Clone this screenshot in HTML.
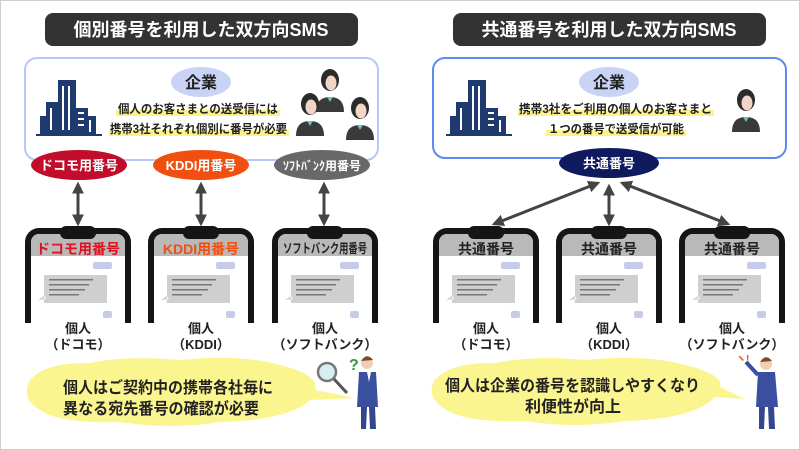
<!DOCTYPE html>
<html><head><meta charset="utf-8"><style>
html,body{margin:0;padding:0;background:#fff;}
svg{display:block;font-family:"Liberation Sans","Noto Sans CJK JP",sans-serif;font-weight:bold;}
</style></head><body>
<svg width="800" height="450" viewBox="0 0 800 450" xmlns="http://www.w3.org/2000/svg">
<defs>
<marker id="a" viewBox="0 0 10 10" refX="8" refY="5" markerWidth="4" markerHeight="4" orient="auto-start-reverse"><path d="M0,0 L10,5 L0,10 z" fill="#444"/></marker>
<g id="ph">
<rect x="0" y="228" width="106" height="110" rx="14" fill="#151515"/>
<rect x="6" y="234" width="94" height="100" rx="8" fill="#fff"/>
<path d="M6,256 V242 a8,8 0 0 1 8,-8 H92 a8,8 0 0 1 8,8 V256 z" fill="#b9b9b9"/>
<rect x="35" y="226" width="36" height="13" rx="6" fill="#151515"/>
<rect x="68" y="262" width="19" height="7" rx="2" fill="#c5cbe8"/>
<path d="M19,275 h63 v28 h-63 z M19,296 l-6,4 l8,-1z" fill="#cfcfcf"/>
<rect x="24" y="279" width="44" height="1.5" fill="#777"/>
<rect x="24" y="284" width="40" height="1.5" fill="#777"/>
<rect x="24" y="289" width="36" height="1.5" fill="#777"/>
<rect x="24" y="294" width="30" height="1.5" fill="#777"/>
<rect x="78" y="311" width="9" height="7" rx="2" fill="#c5cbe8"/>
</g>
<g id="bld" fill="#1f3a6e">
<rect x="18" y="0" width="18" height="55"/><rect x="6" y="22" width="14" height="33"/><rect x="0" y="36" width="8" height="19"/><rect x="34" y="28" width="14" height="27"/><rect x="46" y="36" width="10" height="19"/>
<rect x="-4" y="54" width="66" height="2"/>
<g fill="#fff"><rect x="22" y="6" width="2" height="44"/><rect x="28" y="6" width="2" height="44"/><rect x="10" y="28" width="2" height="22"/><rect x="38" y="32" width="6" height="2"/><rect x="38" y="38" width="6" height="2"/><rect x="38" y="44" width="6" height="2"/><rect x="49" y="40" width="2" height="12"/></g>
</g>
<g id="op">
<path d="M-14,32 q0,-15 14,-15 q14,0 14,15 z" fill="#3a3a3a"/>
<ellipse cx="0" cy="0" rx="9" ry="11" fill="#2b2b2b"/>
<ellipse cx="1" cy="3" rx="5.5" ry="7.5" fill="#f1d6c8"/>
<path d="M-3,17 l3,5 l3,-5z" fill="#6cc3a5"/>
</g>
</defs>
<rect x="0.5" y="0.5" width="799" height="449" fill="#fff" stroke="#cfcfcf"/>

<rect x="45" y="13" width="313" height="33" rx="8" fill="#333"/>
<text x="201" y="36" fill="#fff" font-size="18" text-anchor="middle">個別番号を利用した双方向SMS</text>
<rect x="453" y="13" width="313" height="33" rx="8" fill="#333"/>
<text x="609" y="36" fill="#fff" font-size="18" text-anchor="middle">共通番号を利用した双方向SMS</text>

<rect x="25" y="58" width="353" height="102" rx="12" fill="#fff" stroke="#b7c8f7" stroke-width="2"/>
<rect x="433" y="58" width="353" height="100" rx="12" fill="#fff" stroke="#5d89f2" stroke-width="2"/>
<ellipse cx="201" cy="82" rx="30" ry="15" fill="#c8d3f5"/>
<text x="201" y="88" font-size="16" text-anchor="middle" fill="#222">企業</text>
<ellipse cx="609" cy="82" rx="30" ry="15" fill="#c8d3f5"/>
<text x="609" y="88" font-size="16" text-anchor="middle" fill="#222">企業</text>

<rect x="116" y="110" width="164" height="6" fill="#fbf28a"/>
<rect x="109" y="130" width="180" height="6" fill="#fbf28a"/>
<text x="118" y="113" font-size="12" fill="#222" textLength="160" lengthAdjust="spacingAndGlyphs">個人のお客さまとの送受信には</text>
<text x="110" y="133" font-size="12" fill="#222" textLength="177" lengthAdjust="spacingAndGlyphs">携帯3社それぞれ個別に番号が必要</text>
<rect x="518" y="110" width="196" height="6" fill="#fbf28a"/>
<rect x="546" y="130" width="140" height="6" fill="#fbf28a"/>
<text x="519" y="113" font-size="12" fill="#222" textLength="193" lengthAdjust="spacingAndGlyphs">携帯3社をご利用の個人のお客さまと</text>
<text x="548" y="133" font-size="12" fill="#222" textLength="136" lengthAdjust="spacingAndGlyphs">１つの番号で送受信が可能</text>

<use href="#bld" x="40" y="80"/>
<use href="#bld" x="450" y="80"/>
<use href="#op" x="330" y="80"/>
<use href="#op" x="310" y="104"/>
<use href="#op" x="360" y="108"/>
<use href="#op" x="746" y="100"/>

<ellipse cx="79" cy="165" rx="48" ry="15" fill="#c20c2b"/>
<text x="79" y="170" font-size="13" fill="#fff" text-anchor="middle">ドコモ用番号</text>
<ellipse cx="201" cy="165" rx="48" ry="15" fill="#f04f0f"/>
<text x="201" y="170" font-size="13" fill="#fff" text-anchor="middle">KDDI用番号</text>
<ellipse cx="322" cy="165" rx="48" ry="15" fill="#686868"/>
<text x="322" y="170" font-size="12" fill="#fff" text-anchor="middle">ｿﾌﾄﾊﾞﾝｸ用番号</text>
<ellipse cx="609" cy="163" rx="50" ry="15" fill="#0f1b5e"/>
<text x="609" y="168" font-size="13" fill="#fff" text-anchor="middle">共通番号</text>

<g stroke="#444" stroke-width="3" marker-start="url(#a)" marker-end="url(#a)">
<line x1="78" y1="184" x2="78" y2="224"/>
<line x1="201" y1="184" x2="201" y2="224"/>
<line x1="324" y1="184" x2="324" y2="224"/>
<line x1="598" y1="183" x2="494" y2="224"/>
<line x1="609" y1="186" x2="609" y2="224"/>
<line x1="622" y1="183" x2="728" y2="224"/>
</g>

<use href="#ph" x="25"/><use href="#ph" x="148"/><use href="#ph" x="272"/>
<use href="#ph" x="433"/><use href="#ph" x="556"/><use href="#ph" x="679"/>
<rect x="1" y="323" width="798" height="20" fill="#fff"/>
<text x="78" y="254" font-size="14" fill="#e01020" text-anchor="middle">ドコモ用番号</text>
<text x="201" y="254" font-size="14" fill="#f04f0f" text-anchor="middle">KDDI用番号</text>
<text x="283" y="253" font-size="13" fill="#222" textLength="84" lengthAdjust="spacingAndGlyphs">ソフトバンク用番号</text>
<text x="486" y="254" font-size="14" fill="#222" text-anchor="middle">共通番号</text>
<text x="609" y="254" font-size="14" fill="#222" text-anchor="middle">共通番号</text>
<text x="732" y="254" font-size="14" fill="#222" text-anchor="middle">共通番号</text>

<g font-size="13" fill="#222" text-anchor="middle">
<text x="78" y="333">個人</text><text x="78" y="349">（ドコモ）</text>
<text x="201" y="333">個人</text><text x="201" y="349">（KDDI）</text>
<text x="325" y="333">個人</text><text x="325" y="349">（ソフトバンク）</text>
<text x="486" y="333">個人</text><text x="486" y="349">（ドコモ）</text>
<text x="609" y="333">個人</text><text x="609" y="349">（KDDI）</text>
<text x="732" y="333">個人</text><text x="732" y="349">（ソフトバンク）</text>
</g>

<path d="M30,380 q15,-18 60,-17 q40,-8 90,-3 q60,-6 100,5 q40,10 35,25 l40,8 l-45,2 q-20,20 -90,22 q-50,8 -100,0 q-60,2 -80,-12 q-20,-12 -10,-30z" fill="#fbf58f"/>
<text x="63" y="393" font-size="16" fill="#222" textLength="210" lengthAdjust="spacingAndGlyphs">個人はご契約中の携帯各社毎に</text>
<text x="63" y="414" font-size="16" fill="#222" textLength="196" lengthAdjust="spacingAndGlyphs">異なる宛先番号の確認が必要</text>
<path d="M435,380 q15,-18 60,-17 q40,-8 90,-3 q60,-6 100,5 q40,10 35,22 l25,12 l-30,-2 q-20,22 -90,24 q-50,8 -100,0 q-60,2 -80,-12 q-20,-12 -10,-30z" fill="#fbf58f"/>
<text x="445" y="391" font-size="16" fill="#222" textLength="255" lengthAdjust="spacingAndGlyphs">個人は企業の番号を認識しやすくなり</text>
<text x="573" y="412" font-size="16" fill="#222" text-anchor="middle">利便性が向上</text>

<circle cx="327" cy="372" r="9" fill="#d7ecf3" stroke="#777" stroke-width="2.5"/>
<line x1="334" y1="379" x2="347" y2="393" stroke="#555" stroke-width="3"/>
<text x="349" y="370" font-size="16" fill="#2a9d3a">?</text>
<circle cx="367" cy="363" r="6" fill="#f1cfb4"/>
<path d="M361,361 q6,-9 12,-1z" fill="#7a4a20"/>
<path d="M359,372 h17 l2,35 h-21z" fill="#3a4fa0"/>
<path d="M361,407 h6 l-1,22 h-5z M369,407 h6 l1,22 h-6z" fill="#33468f"/>
<path d="M367,372 l2,10 l2,-10z" fill="#fff"/>

<text x="736" y="362" font-size="10" fill="#e85020">ヽ!</text>
<circle cx="766" cy="364" r="6" fill="#f1cfb4"/>
<path d="M760,362 q6,-9 12,-1z" fill="#7a4a20"/>
<path d="M758,372 h17 l3,35 h-22z" fill="#3a4fa0"/>
<line x1="758" y1="375" x2="746" y2="362" stroke="#3a4fa0" stroke-width="4"/>
<path d="M759,407 h6 l-1,22 h-5z M768,407 h6 l1,22 h-6z" fill="#33468f"/>
</svg>
</body></html>
